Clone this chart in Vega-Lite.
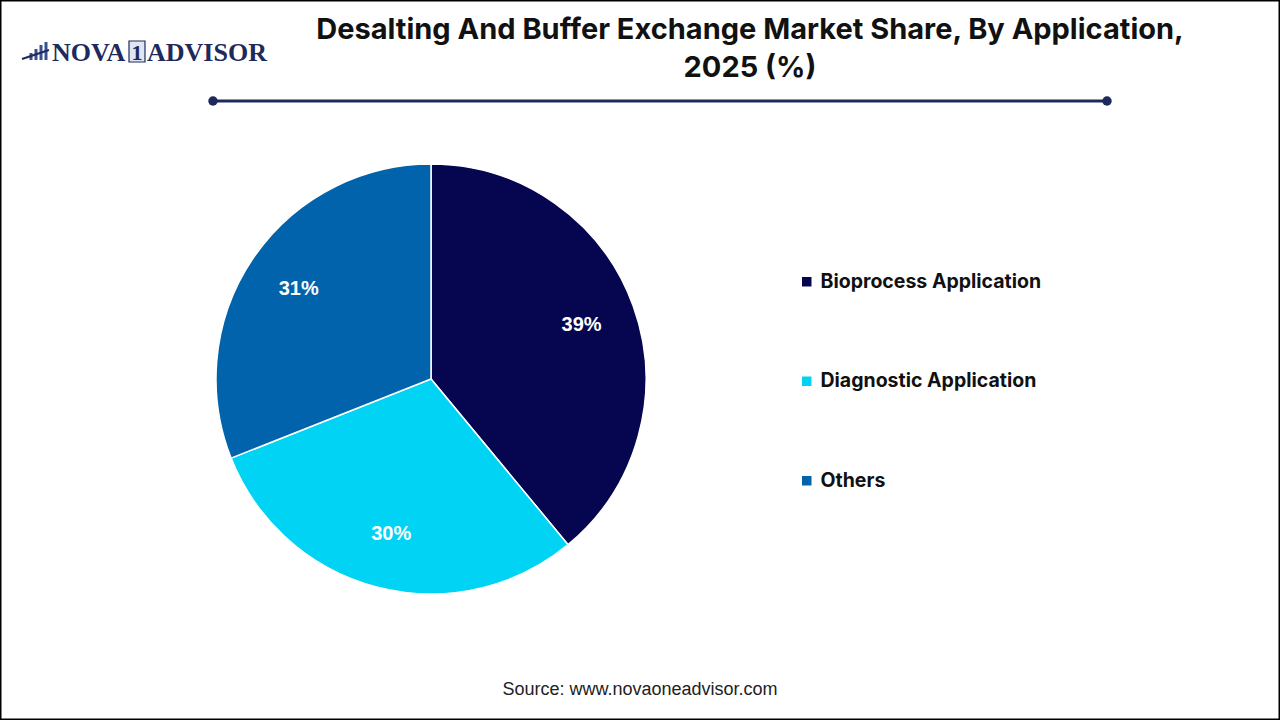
{
  "$schema": "https://vega.github.io/schema/vega-lite/v6.json",
  "width": 1280,
  "height": 720,
  "autosize": {"type": "fit", "contains": "padding"},
  "padding": 0,
  "background": "#ffffff",
  "config": {
    "view": {"stroke": null},
    "font": "Liberation Sans"
  },
  "datasets": {
    "shares": [
      {"application": "Bioprocess Application", "share": 0.39},
      {"application": "Diagnostic Application", "share": 0.30},
      {"application": "Others", "share": 0.31}
    ]
  },
  "layer": [
    {
      "data": {"values": [{}]},
      "mark": {"type": "rect", "fill": null, "stroke": "#000000", "strokeWidth": 1.5},
      "encoding": {
        "x": {"value": 0.75}, "x2": {"value": 1279.25},
        "y": {"value": 0.75}, "y2": {"value": 719.25}
      }
    },
    {
      "data": {"name": "shares"},
      "mark": {"type": "arc", "x": 431, "y": 379, "outerRadius": 215, "stroke": "#ffffff", "strokeWidth": 1.5},
      "encoding": {
        "theta": {"field": "share", "type": "quantitative", "stack": true},
        "order": {"field": "application", "type": "nominal", "sort": "ascending"},
        "color": {
          "field": "application",
          "type": "nominal",
          "sort": null,
          "scale": {
            "domain": ["Bioprocess Application", "Diagnostic Application", "Others"],
            "range": ["#05064f", "#00d3f3", "#0063ab"]
          },
          "legend": {
            "title": null,
            "orient": "none",
            "legendX": 797,
            "legendY": 272,
            "symbolType": "square",
            "symbolSize": 90,
            "symbolStrokeWidth": 0,
            "labelFont": "Inter",
            "labelFontWeight": "bold",
            "labelFontSize": 19.5,
            "labelColor": "#111111",
            "labelOffset": 4,
            "rowPadding": 78.5,
            "labelLimit": 400
          }
        }
      }
    },
    {
      "data": {"name": "shares"},
      "mark": {"type": "text", "x": 431, "y": 379, "radius": 160, "fill": "#ffffff", "fontSize": 20, "fontWeight": "bold", "font": "Liberation Sans"},
      "encoding": {
        "theta": {"field": "share", "type": "quantitative", "stack": true},
        "order": {"field": "application", "type": "nominal", "sort": "ascending"},
        "detail": {"field": "application", "type": "nominal"},
        "text": {"field": "share", "type": "quantitative", "format": ".0%"}
      }
    },
    {
      "data": {"values": [{}]},
      "mark": {
        "type": "text",
        "text": ["Desalting And Buffer Exchange Market Share, By Application,", "2025 (%)"],
        "x": 750, "y": 39, "align": "center", "baseline": "alphabetic",
        "lineHeight": 38, "fontSize": 29, "fontWeight": "bold", "fill": "#111111", "font": "Inter"
      },
      "encoding": {}
    },
    {
      "data": {"values": [{}]},
      "mark": {"type": "rule", "stroke": "#1f2a5c", "strokeWidth": 3},
      "encoding": {"x": {"value": 213}, "x2": {"value": 1107}, "y": {"value": 101}, "y2": {"value": 101}}
    },
    {
      "data": {"values": [{}]},
      "mark": {"type": "point", "x": 213, "y": 101, "filled": true, "size": 90, "fill": "#1f2a5c", "opacity": 1},
      "encoding": {}
    },
    {
      "data": {"values": [{}]},
      "mark": {"type": "point", "x": 1107, "y": 101, "filled": true, "size": 90, "fill": "#1f2a5c", "opacity": 1},
      "encoding": {}
    },
    {
      "data": {"values": [{}]},
      "mark": {"type": "text", "text": "NOVA", "x": 52, "y": 61, "align": "left", "baseline": "alphabetic", "font": "Liberation Serif", "fontSize": 26, "fontWeight": "bold", "fill": "#1f2a5c"},
      "encoding": {}
    },
    {
      "data": {"values": [{}]},
      "mark": {"type": "rect", "fill": "#dfe6f2", "stroke": "#1f2a5c", "strokeWidth": 1.2},
      "encoding": {"x": {"value": 129}, "x2": {"value": 145}, "y": {"value": 41}, "y2": {"value": 62}}
    },
    {
      "data": {"values": [{}]},
      "mark": {"type": "text", "text": "1", "x": 137, "y": 60, "align": "center", "baseline": "alphabetic", "font": "Liberation Serif", "fontSize": 22, "fontWeight": "bold", "fill": "#1f2a5c"},
      "encoding": {}
    },
    {
      "data": {"values": [{}]},
      "mark": {"type": "text", "text": "ADVISOR", "x": 147, "y": 61, "align": "left", "baseline": "alphabetic", "font": "Liberation Serif", "fontSize": 26, "fontWeight": "bold", "fill": "#1f2a5c"},
      "encoding": {}
    },
    {
      "data": {"values": [{}]},
      "mark": {"type": "rule", "stroke": "#3a4f8f", "strokeWidth": 3},
      "encoding": {"x": {"value": 31}, "x2": {"value": 31}, "y": {"value": 53}, "y2": {"value": 60}}
    },
    {
      "data": {"values": [{}]},
      "mark": {"type": "rule", "stroke": "#3a4f8f", "strokeWidth": 3},
      "encoding": {"x": {"value": 36}, "x2": {"value": 36}, "y": {"value": 49}, "y2": {"value": 60}}
    },
    {
      "data": {"values": [{}]},
      "mark": {"type": "rule", "stroke": "#3a4f8f", "strokeWidth": 3},
      "encoding": {"x": {"value": 41}, "x2": {"value": 41}, "y": {"value": 45}, "y2": {"value": 60}}
    },
    {
      "data": {"values": [{}]},
      "mark": {"type": "rule", "stroke": "#3a4f8f", "strokeWidth": 3},
      "encoding": {"x": {"value": 46}, "x2": {"value": 46}, "y": {"value": 42}, "y2": {"value": 60}}
    },
    {
      "data": {"values": [{}]},
      "mark": {"type": "rule", "stroke": "#1f2a5c", "strokeWidth": 2},
      "encoding": {"x": {"value": 22}, "x2": {"value": 49}, "y": {"value": 59}, "y2": {"value": 50}}
    },
    {
      "data": {"values": [{}]},
      "mark": {"type": "text", "text": "Source: www.novaoneadvisor.com", "x": 640, "y": 695, "align": "center", "baseline": "alphabetic", "fontSize": 18, "fill": "#222222", "font": "Liberation Sans"},
      "encoding": {}
    }
  ]
}
